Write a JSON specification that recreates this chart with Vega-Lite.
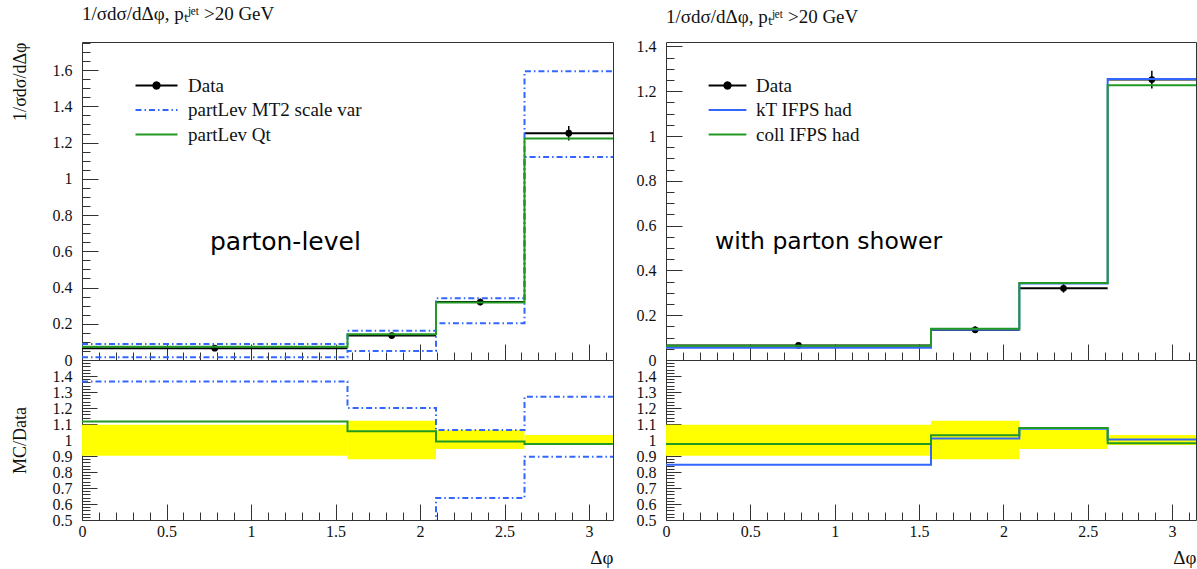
{
  "$schema": "https://vega.github.io/schema/vega-lite/v6.json",
  "background": "white",
  "padding": {"left": 10, "top": 4, "right": 0, "bottom": 2},
  "datasets": {
    "meas": [
      {"bin": 1, "lo": 0, "hi": 1.5708, "mid": 0.7854, "y": 0.065, "ylo": 0.0585, "yhi": 0.0715, "rlo": 0.902, "rhi": 1.096},
      {"bin": 2, "lo": 1.5708, "hi": 2.0944, "mid": 1.8326, "y": 0.135, "ylo": 0.119, "yhi": 0.151, "rlo": 0.88, "rhi": 1.12},
      {"bin": 3, "lo": 2.0944, "hi": 2.618, "mid": 2.3562, "y": 0.32, "ylo": 0.301, "yhi": 0.339, "rlo": 0.944, "rhi": 1.062},
      {"bin": 4, "lo": 2.618, "hi": 3.1416, "mid": 2.8798, "y": 1.252, "ylo": 1.212, "yhi": 1.292, "rlo": 0.968, "rhi": 1.032}
    ],
    "hL": [
      {"series": "partLev MT2 scale var", "variant": "up", "bin": 1, "lo": 0, "hi": 1.5708, "y": 0.0887, "r": 1.365},
      {"series": "partLev MT2 scale var", "variant": "up", "bin": 2, "lo": 1.5708, "hi": 2.0944, "y": 0.162, "r": 1.2},
      {"series": "partLev MT2 scale var", "variant": "up", "bin": 3, "lo": 2.0944, "hi": 2.618, "y": 0.341, "r": 1.0625},
      {"series": "partLev MT2 scale var", "variant": "up", "bin": 4, "lo": 2.618, "hi": 3.1416, "y": 1.593, "r": 1.27},
      {"series": "partLev MT2 scale var", "variant": "down", "bin": 1, "lo": 0, "hi": 1.5708, "y": 0.015, "r": 0.23},
      {"series": "partLev MT2 scale var", "variant": "down", "bin": 2, "lo": 1.5708, "hi": 2.0944, "y": 0.05, "r": 0.37},
      {"series": "partLev MT2 scale var", "variant": "down", "bin": 3, "lo": 2.0944, "hi": 2.618, "y": 0.203, "r": 0.6375},
      {"series": "partLev MT2 scale var", "variant": "down", "bin": 4, "lo": 2.618, "hi": 3.1416, "y": 1.121, "r": 0.896},
      {"series": "partLev Qt", "variant": "c", "bin": 1, "lo": 0, "hi": 1.5708, "y": 0.0725, "r": 1.115},
      {"series": "partLev Qt", "variant": "c", "bin": 2, "lo": 1.5708, "hi": 2.0944, "y": 0.1425, "r": 1.055},
      {"series": "partLev Qt", "variant": "c", "bin": 3, "lo": 2.0944, "hi": 2.618, "y": 0.317, "r": 0.99},
      {"series": "partLev Qt", "variant": "c", "bin": 4, "lo": 2.618, "hi": 3.1416, "y": 1.222, "r": 0.975}
    ],
    "hR": [
      {"series": "kT IFPS had", "variant": "c", "bin": 1, "lo": 0, "hi": 1.5708, "y": 0.055, "r": 0.845},
      {"series": "kT IFPS had", "variant": "c", "bin": 2, "lo": 1.5708, "hi": 2.0944, "y": 0.1365, "r": 1.01},
      {"series": "kT IFPS had", "variant": "c", "bin": 3, "lo": 2.0944, "hi": 2.618, "y": 0.342, "r": 1.07},
      {"series": "kT IFPS had", "variant": "c", "bin": 4, "lo": 2.618, "hi": 3.1416, "y": 1.255, "r": 1.003},
      {"series": "coll IFPS had", "variant": "c", "bin": 1, "lo": 0, "hi": 1.5708, "y": 0.0635, "r": 0.975},
      {"series": "coll IFPS had", "variant": "c", "bin": 2, "lo": 1.5708, "hi": 2.0944, "y": 0.139, "r": 1.03},
      {"series": "coll IFPS had", "variant": "c", "bin": 3, "lo": 2.0944, "hi": 2.618, "y": 0.344, "r": 1.075},
      {"series": "coll IFPS had", "variant": "c", "bin": 4, "lo": 2.618, "hi": 3.1416, "y": 1.227, "r": 0.98}
    ]
  },
  "config": {
    "view": {"stroke": "#333333", "strokeWidth": 1},
    "axis": {"domain": false, "grid": false, "tickColor": "#333333", "tickWidth": 1, "tickCount": 200, "labelFont": "Liberation Serif", "labelFontSize": 16, "labelColor": "#111111", "titleFont": "Liberation Serif", "titleFontSize": 18, "titleFontWeight": "normal", "titleColor": "#111111", "labelFlush": false, "labelOverlap": false},
    "title": {"font": "Liberation Serif", "fontSize": 19, "fontWeight": "normal", "color": "#111111", "anchor": "start", "frame": "group", "offset": 11}
  },
  "spacing": 20,
  "resolve": {"scale": {"color": "independent", "strokeDash": "independent"}},
  "hconcat": [
    {
      "spacing": 0,
      "bounds": "flush",
      "resolve": {"scale": {"color": "independent", "strokeDash": "independent"}},
      "vconcat": [
        {
          "width": 531,
          "height": 318,
          "title": {"text": "1/σdσ/dΔφ, pₜʲᵉᵗ >20 GeV"},
          "layer": [
            {
              "data": {"name": "meas"},
              "mark": {"type": "rule", "color": "black", "strokeWidth": 2},
              "encoding": {
                "x": {"field": "lo", "type": "quantitative", "scale": {"domain": [0, 3.14159], "nice": false, "zero": false},
                  "axis": {"values": [0,0.1,0.2,0.3,0.4,0.5,0.6,0.7,0.8,0.9,1,1.1,1.2,1.3,1.4,1.5,1.6,1.7,1.8,1.9,2,2.1,2.2,2.3,2.4,2.5,2.6,2.7,2.8,2.9,3,3.1], "tickCount": 200, "labels": false, "title": null, "minExtent": 0, "maxExtent": 0,
                    "tickSize": {"condition": {"test": "abs(datum.value*2-round(datum.value*2))<0.001", "value": -16}, "value": -8}}},
                "x2": {"field": "hi"},
                "y": {"field": "y", "type": "quantitative", "scale": {"domain": [0, 1.755], "nice": false, "zero": false},
                  "axis": {"values": [0,0.05,0.1,0.15,0.2,0.25,0.3,0.35,0.4,0.45,0.5,0.55,0.6,0.65,0.7,0.75,0.8,0.85,0.9,0.95,1,1.05,1.1,1.15,1.2,1.25,1.3,1.35,1.4,1.45,1.5,1.55,1.6,1.65,1.7,1.75], "tickCount": 200,
                    "format": "~g", "labelOverlap": false, "labelExpr": "abs(datum.value*5-round(datum.value*5))<0.001 ? datum.label : ''",
                    "tickSize": {"condition": {"test": "abs(datum.value*5-round(datum.value*5))<0.001", "value": -16}, "value": -8},
                    "labelPadding": 26, "title": "1/σdσ/dΔφ", "titleAnchor": "end", "titlePadding": 23}}
              }
            },
            {
              "data": {"name": "meas"},
              "mark": {"type": "rule", "color": "black", "strokeWidth": 1.5},
              "encoding": {
                "x": {"field": "mid", "type": "quantitative"},
                "y": {"field": "ylo", "type": "quantitative"},
                "y2": {"field": "yhi"}
              }
            },
            {
              "data": {"name": "meas"},
              "mark": {"type": "point", "filled": true, "color": "black", "size": 45, "opacity": 1},
              "encoding": {
                "x": {"field": "mid", "type": "quantitative"},
                "y": {"field": "y", "type": "quantitative"}
              }
            },
            {
              "data": {"name": "hL"},
              "transform": [{"fold": ["lo", "hi"], "as": ["edge", "x"]}],
              "mark": {"type": "line", "strokeWidth": 2, "clip": true},
              "encoding": {
                "x": {"field": "x", "type": "quantitative"},
                "y": {"field": "y", "type": "quantitative"},
                "detail": {"field": "variant"},
                "order": [{"field": "bin", "type": "quantitative"}, {"field": "edge", "sort": "descending"}],
                "color": {"field": "series", "type": "nominal",
                  "scale": {"domain": ["Data", "partLev MT2 scale var", "partLev Qt"], "range": ["#000000", "#3366ff", "#229922"]},
                  "legend": {"orient": "none", "legendX": 63, "legendY": 32, "title": null, "symbolType": "M-2,0H2", "symbolSize": 441, "symbolStrokeWidth": 2, "labelFont": "Liberation Serif", "labelFontSize": 19, "labelColor": "#111111", "labelOffset": 20, "labelLimit": 400, "rowPadding": 2.5,
                    "encode": {"symbols": {"update": {"shape": {"signal": "datum.value === 'Data' ? 'M-2,0H2M-0.3,0A0.3,0.3,0,1,1,0.3,0A0.3,0.3,0,1,1,-0.3,0' : 'M-2,0H2'"}, "fill": {"signal": "datum.value === 'Data' ? 'black' : 'transparent'"}}}}}},
                "strokeDash": {"field": "series", "type": "nominal",
                  "scale": {"domain": ["Data", "partLev MT2 scale var", "partLev Qt"], "range": [[1, 0], [6, 3, 1.5, 3], [1, 0]]}}
              }
            },
            {
              "data": {"values": [{"label": "parton-level"}]},
              "mark": {"type": "text", "font": "DejaVu Sans", "fontSize": 25, "align": "left", "baseline": "middle", "color": "black"},
              "encoding": {
                "x": {"datum": 0.757},
                "y": {"datum": 0.65},
                "text": {"field": "label"}
              }
            }
          ]
        },
        {
          "width": 531,
          "height": 160,
          "layer": [
            {
              "data": {"name": "meas"},
              "mark": {"type": "rect", "color": "#ffff00", "opacity": 1},
              "encoding": {
                "x": {"field": "lo", "type": "quantitative", "scale": {"domain": [0, 3.14159], "nice": false, "zero": false},
                  "axis": {"values": [0,0.1,0.2,0.3,0.4,0.5,0.6,0.7,0.8,0.9,1,1.1,1.2,1.3,1.4,1.5,1.6,1.7,1.8,1.9,2,2.1,2.2,2.3,2.4,2.5,2.6,2.7,2.8,2.9,3,3.1], "tickCount": 200,
                    "format": "~g", "labelOverlap": false, "labelExpr": "abs(datum.value*2-round(datum.value*2))<0.001 ? datum.label : ''",
                    "tickSize": {"condition": {"test": "abs(datum.value*2-round(datum.value*2))<0.001", "value": -16}, "value": -8},
                    "labelPadding": 19, "title": "Δφ", "titleFontSize": 19, "titleAnchor": "end", "titlePadding": 1}},
                "x2": {"field": "hi"},
                "y": {"field": "rlo", "type": "quantitative", "scale": {"domain": [0.5, 1.5], "nice": false, "zero": false},
                  "axis": {"values": [0.5,0.52,0.54,0.56,0.58,0.6,0.62,0.64,0.66,0.68,0.7,0.72,0.74,0.76,0.78,0.8,0.82,0.84,0.86,0.88,0.9,0.92,0.94,0.96,0.98,1,1.02,1.04,1.06,1.08,1.1,1.12,1.14,1.16,1.18,1.2,1.22,1.24,1.26,1.28,1.3,1.32,1.34,1.36,1.38,1.4,1.42,1.44,1.46,1.48], "tickCount": 200,
                    "format": "~g", "labelOverlap": false, "labelExpr": "abs(datum.value*10-round(datum.value*10))<0.001 && datum.value < 1.45 ? datum.label : ''",
                    "tickSize": {"condition": {"test": "abs(datum.value*10-round(datum.value*10))<0.001", "value": -15}, "value": -8},
                    "labelPadding": 25, "title": "MC/Data", "titleAnchor": "middle", "titlePadding": 23}},
                "y2": {"field": "rhi"}
              }
            },
            {
              "mark": {"type": "rule", "color": "black", "strokeWidth": 1},
              "encoding": {"y": {"datum": 1}}
            },
            {
              "data": {"name": "hL"},
              "transform": [{"fold": ["lo", "hi"], "as": ["edge", "x"]}],
              "mark": {"type": "line", "strokeWidth": 2, "clip": true},
              "encoding": {
                "x": {"field": "x", "type": "quantitative"},
                "y": {"field": "r", "type": "quantitative"},
                "detail": {"field": "variant"},
                "order": [{"field": "bin", "type": "quantitative"}, {"field": "edge", "sort": "descending"}],
                "color": {"field": "series", "type": "nominal", "legend": null,
                  "scale": {"domain": ["Data", "partLev MT2 scale var", "partLev Qt"], "range": ["#000000", "#3366ff", "#229922"]}},
                "strokeDash": {"field": "series", "type": "nominal", "legend": null,
                  "scale": {"domain": ["Data", "partLev MT2 scale var", "partLev Qt"], "range": [[1, 0], [6, 3, 1.5, 3], [1, 0]]}}
              }
            }
          ]
        }
      ]
    },
    {
      "spacing": 0,
      "bounds": "flush",
      "resolve": {"scale": {"color": "independent", "strokeDash": "independent"}},
      "vconcat": [
        {
          "width": 530,
          "height": 318,
          "title": {"text": "1/σdσ/dΔφ, pₜʲᵉᵗ >20 GeV"},
          "layer": [
            {
              "data": {"name": "meas"},
              "mark": {"type": "rule", "color": "black", "strokeWidth": 2},
              "encoding": {
                "x": {"field": "lo", "type": "quantitative", "scale": {"domain": [0, 3.14159], "nice": false, "zero": false},
                  "axis": {"values": [0,0.1,0.2,0.3,0.4,0.5,0.6,0.7,0.8,0.9,1,1.1,1.2,1.3,1.4,1.5,1.6,1.7,1.8,1.9,2,2.1,2.2,2.3,2.4,2.5,2.6,2.7,2.8,2.9,3,3.1], "tickCount": 200, "labels": false, "title": null, "minExtent": 0, "maxExtent": 0,
                    "tickSize": {"condition": {"test": "abs(datum.value*2-round(datum.value*2))<0.001", "value": -16}, "value": -8}}},
                "x2": {"field": "hi"},
                "y": {"field": "y", "type": "quantitative", "scale": {"domain": [0, 1.42], "nice": false, "zero": false},
                  "axis": {"values": [0,0.05,0.1,0.15,0.2,0.25,0.3,0.35,0.4,0.45,0.5,0.55,0.6,0.65,0.7,0.75,0.8,0.85,0.9,0.95,1,1.05,1.1,1.15,1.2,1.25,1.3,1.35,1.4], "tickCount": 200,
                    "format": "~g", "labelOverlap": false, "labelExpr": "abs(datum.value*5-round(datum.value*5))<0.001 ? datum.label : ''",
                    "tickSize": {"condition": {"test": "abs(datum.value*5-round(datum.value*5))<0.001", "value": -16}, "value": -8},
                    "labelPadding": 26, "title": null}}
              }
            },
            {
              "data": {"name": "meas"},
              "mark": {"type": "rule", "color": "black", "strokeWidth": 1.5},
              "encoding": {
                "x": {"field": "mid", "type": "quantitative"},
                "y": {"field": "ylo", "type": "quantitative"},
                "y2": {"field": "yhi"}
              }
            },
            {
              "data": {"name": "meas"},
              "mark": {"type": "point", "filled": true, "color": "black", "size": 45, "opacity": 1},
              "encoding": {
                "x": {"field": "mid", "type": "quantitative"},
                "y": {"field": "y", "type": "quantitative"}
              }
            },
            {
              "data": {"name": "hR"},
              "transform": [{"fold": ["lo", "hi"], "as": ["edge", "x"]}],
              "mark": {"type": "line", "strokeWidth": 2, "clip": true},
              "encoding": {
                "x": {"field": "x", "type": "quantitative"},
                "y": {"field": "y", "type": "quantitative"},
                "detail": {"field": "variant"},
                "order": [{"field": "bin", "type": "quantitative"}, {"field": "edge", "sort": "descending"}],
                "color": {"field": "series", "type": "nominal",
                  "scale": {"domain": ["Data", "kT IFPS had", "coll IFPS had"], "range": ["#000000", "#3366ff", "#229922"]},
                  "legend": {"orient": "none", "legendX": 50, "legendY": 32, "title": null, "symbolType": "M-1.8,0H1.8", "symbolSize": 441, "symbolStrokeWidth": 2, "labelFont": "Liberation Serif", "labelFontSize": 19, "labelColor": "#111111", "labelOffset": 17, "labelLimit": 400, "rowPadding": 2.5,
                    "encode": {"symbols": {"update": {"shape": {"signal": "datum.value === 'Data' ? 'M-1.8,0H1.8M-0.3,0A0.3,0.3,0,1,1,0.3,0A0.3,0.3,0,1,1,-0.3,0' : 'M-1.8,0H1.8'"}, "fill": {"signal": "datum.value === 'Data' ? 'black' : 'transparent'"}}}}}},
                "strokeDash": {"field": "series", "type": "nominal",
                  "scale": {"domain": ["Data", "kT IFPS had", "coll IFPS had"], "range": [[1, 0], [1, 0], [1, 0]]}}
              }
            },
            {
              "data": {"values": [{"label": "with parton shower"}]},
              "mark": {"type": "text", "font": "DejaVu Sans", "fontSize": 23.5, "align": "left", "baseline": "middle", "color": "black"},
              "encoding": {
                "x": {"datum": 0.291},
                "y": {"datum": 0.526},
                "text": {"field": "label"}
              }
            }
          ]
        },
        {
          "width": 530,
          "height": 160,
          "layer": [
            {
              "data": {"name": "meas"},
              "mark": {"type": "rect", "color": "#ffff00", "opacity": 1},
              "encoding": {
                "x": {"field": "lo", "type": "quantitative", "scale": {"domain": [0, 3.14159], "nice": false, "zero": false},
                  "axis": {"values": [0,0.1,0.2,0.3,0.4,0.5,0.6,0.7,0.8,0.9,1,1.1,1.2,1.3,1.4,1.5,1.6,1.7,1.8,1.9,2,2.1,2.2,2.3,2.4,2.5,2.6,2.7,2.8,2.9,3,3.1], "tickCount": 200,
                    "format": "~g", "labelOverlap": false, "labelExpr": "abs(datum.value*2-round(datum.value*2))<0.001 ? datum.label : ''",
                    "tickSize": {"condition": {"test": "abs(datum.value*2-round(datum.value*2))<0.001", "value": -16}, "value": -8},
                    "labelPadding": 19, "title": "Δφ", "titleFontSize": 19, "titleAnchor": "end", "titlePadding": 1}},
                "x2": {"field": "hi"},
                "y": {"field": "rlo", "type": "quantitative", "scale": {"domain": [0.5, 1.5], "nice": false, "zero": false},
                  "axis": {"values": [0.5,0.52,0.54,0.56,0.58,0.6,0.62,0.64,0.66,0.68,0.7,0.72,0.74,0.76,0.78,0.8,0.82,0.84,0.86,0.88,0.9,0.92,0.94,0.96,0.98,1,1.02,1.04,1.06,1.08,1.1,1.12,1.14,1.16,1.18,1.2,1.22,1.24,1.26,1.28,1.3,1.32,1.34,1.36,1.38,1.4,1.42,1.44,1.46,1.48], "tickCount": 200,
                    "format": "~g", "labelOverlap": false, "labelExpr": "abs(datum.value*10-round(datum.value*10))<0.001 && datum.value < 1.45 ? datum.label : ''",
                    "tickSize": {"condition": {"test": "abs(datum.value*10-round(datum.value*10))<0.001", "value": -15}, "value": -8},
                    "labelPadding": 25, "title": null}},
                "y2": {"field": "rhi"}
              }
            },
            {
              "mark": {"type": "rule", "color": "black", "strokeWidth": 1},
              "encoding": {"y": {"datum": 1}}
            },
            {
              "data": {"name": "hR"},
              "transform": [{"fold": ["lo", "hi"], "as": ["edge", "x"]}],
              "mark": {"type": "line", "strokeWidth": 2, "clip": true},
              "encoding": {
                "x": {"field": "x", "type": "quantitative"},
                "y": {"field": "r", "type": "quantitative"},
                "detail": {"field": "variant"},
                "order": [{"field": "bin", "type": "quantitative"}, {"field": "edge", "sort": "descending"}],
                "color": {"field": "series", "type": "nominal", "legend": null,
                  "scale": {"domain": ["Data", "kT IFPS had", "coll IFPS had"], "range": ["#000000", "#3366ff", "#229922"]}}
              }
            }
          ]
        }
      ]
    }
  ]
}
